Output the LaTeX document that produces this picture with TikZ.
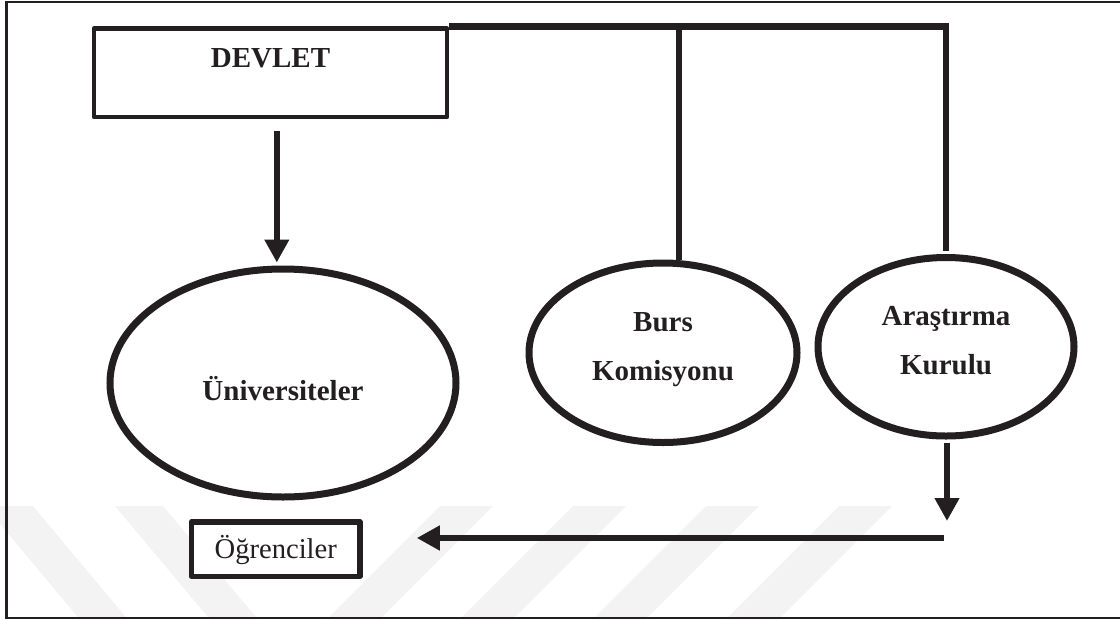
\documentclass[tikz,border=0pt]{standalone}
\usepackage{fontspec}
\setmainfont{Liberation Serif}
\usetikzlibrary{arrows.meta,shapes.geometric}
\definecolor{ink}{HTML}{231F20}
\definecolor{wmark}{HTML}{F3F3F3}
\begin{document}
\begin{tikzpicture}[x=1pt,y=-1pt,
  frameline/.style={draw=ink, line width=2.5pt},
  boxnode/.style={draw=ink, rectangle, inner sep=0pt, line join=round, text=ink},
  oval/.style={draw=ink, ellipse, line width=7pt, inner sep=0pt, align=center,
    text=ink, font=\bfseries\fontsize{29}{48.5}\selectfont},
  link/.style={draw=ink, line width=6.5pt},
  flow/.style={link, -{Triangle[width=23.5pt,length=23pt]}}]
\useasboundingbox (0,0) rectangle (1120,619);

% faint watermark bands along the bottom
\begin{scope}
  \clip (0,506) rectangle (1120,619);
  \foreach \a in {-15,115}
    \fill[wmark] (\a,506) -- ++(48,0) -- ++(94.5,113) -- ++(-48,0) -- cycle;
  \foreach \a in {440,573,706,839}
    \fill[wmark] (\a,506) -- ++(53,0) -- ++(-113,113) -- ++(-53,0) -- cycle;
\end{scope}

% page frame (open on the right)
\draw[frameline] (1121,1.8) -- (6.6,1.8) -- (6.6,617.8) -- (1121,617.8);

% nodes
\node[boxnode, line width=4.5pt, minimum width=353pt, minimum height=88.5pt,
      text height=20pt, text depth=31.5pt,
      font=\bfseries\fontsize{29}{34}\selectfont] (devlet) at (270.5,72.75) {DEVLET};
\node[oval, minimum width=346pt, minimum height=228pt,
      text height=40pt, text depth=6pt] (univ) at (283,383) {Üniversiteler};
\node[oval, minimum width=268pt, minimum height=179.5pt,
      text height=62.5pt, text depth=8pt] (burs) at (663,352.75) {Burs\\Komisyonu};
\node[oval, minimum width=256pt, minimum height=178.5pt,
      text height=62.5pt, text depth=8pt] (ark) at (946,346.75) {Araştırma\\Kurulu};
\node[boxnode, fill=white, line width=5.5pt, minimum width=168.5pt, minimum height=54.5pt,
      text height=26pt, text depth=7pt,
      font=\fontsize{28.6}{34}\selectfont] (ogr) at (275.75,549) {Öğrenciler};

% free ends of the lower connectors
\coordinate (drop) at (947,521);
\coordinate (hstart) at (944,538);
\coordinate (hend) at ([xshift=54pt]ogr.east |- hstart);

% connectors
\draw[link, line join=miter, shorten >=3pt] (devlet.north east) -| (ark.north);
\draw[link] ([xshift=16pt]burs.north) -- ([xshift=16pt]burs.north |- devlet.north);
\draw[flow, shorten <=12pt, shorten >=3pt]
  ([xshift=6.3pt]devlet.south) -- ([xshift=6.3pt]devlet.south |- univ.north);
\draw[flow, shorten <=3.5pt] ([xshift=1pt]ark.south) -- (drop);
\draw[flow] (hstart) -- (hend);
\end{tikzpicture}
\end{document}
